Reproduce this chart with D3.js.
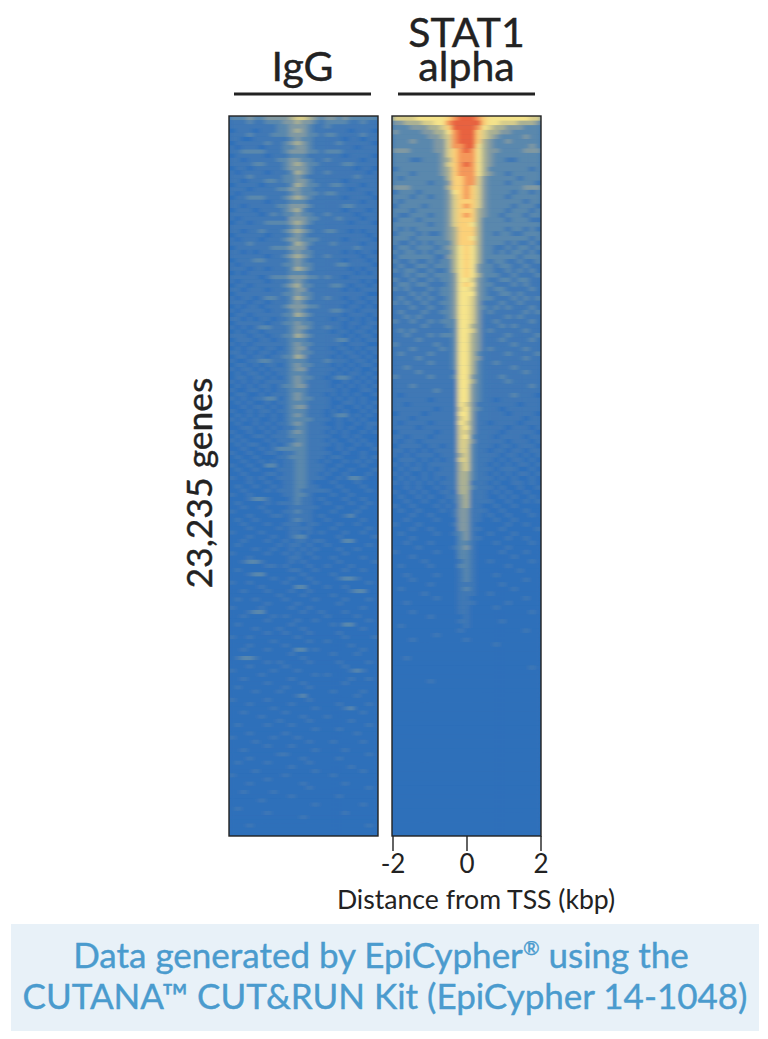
<!DOCTYPE html>
<html>
<head>
<meta charset="utf-8">
<script src="https://cdn.jsdelivr.net/npm/d3@7"></script>
<style>
body { margin: 0; background: #fff; }
text { font-family: Lato, sans-serif; fill: #222; }
</style>
</head>
<body>
<div id="chart-area"></div>
<script>
// signal per row (top to bottom) and per bin (-2 to 2 kbp), 0 = low, 9 = high
// groups are just left flank / centre / right flank
const iggRows = [
"222322333 3455432 332322222","111211222 3343321 222211211","111111112 2333211 211111111","011101112 2343211 111101110",
"111211122 2333221 221111211","110011111 1232211 111011011","011111211 2343211 112111110","101110111 2233211 111110111",
"112222111 2333221 222111111","011111011 1222111 111011110","110111112 2332211 211111011","111122111 2343221 111221111",
"011011111 2333211 111110110","101111011 1243211 211111101","111211111 2232111 111112111","110111221 2233211 111011111",
"011110111 1243221 122111011","111011112 2332211 111101111","101111111 1232221 221111101","011222111 2343211 111011110",
"111111011 1222111 111111011","110111112 2333211 111221111","011101111 2342111 111011101","111110121 2232211 211110111",
"101111111 1333221 112111011","011011222 2343211 111101110","111111111 1232111 111111111","110112111 2343211 221101011",
"011111011 1232111 111111101","101110111 2332221 111011110","111211111 1243211 121111011","011111122 2333111 111112111",
"110101111 1232211 111010110","111111011 2343211 211111011","011122111 1232111 111011101","101111111 2232211 112211110",
"111011011 1243211 111101011","010111111 1222111 111110101","111110122 2333221 211011111","101111011 1232111 111111010",
"011011111 2342211 122101101","110111011 1233111 111010111","011111111 2232211 111111100","101101221 1243211 211011011",
"111011011 1232111 111101101","010110111 2333221 111011010","101111011 1232111 122110111","011011111 2243211 111011101",
"110101101 1222111 101101010","011111011 2232211 111011011","101012211 1233211 211010110","010110111 1232111 101101101",
"111011011 2243211 111010110","011101101 1222111 112201011","101011111 1232211 111011100","010110110 1233111 101101011",
"110101101 1232211 110110101","011011011 2243111 101011010","100112211 1222111 211101101","011010110 1232211 101010110",
"101101011 1233111 110101001","010110101 1222111 101011010","011011010 1232211 012210101","101010111 1232111 100101010",
"010101101 2233111 101010101","100110101 1222111 110100110","011001011 1232111 010101001","101011220 1232211 101010100",
"010100101 1222111 100110101","001011010 1233111 101001010","100101101 1222111 010100101","010101010 1232111 012201010",
"101010010 1222211 101010100","010010101 1232111 001001011","001101010 1122111 101010010","100100101 1232111 010100101",
"010011011 1222111 100101000","101000101 1122111 010010100","010110010 1232111 101001010","001001012 2222111 001010001",
"100100110 1122111 100100100","010010001 1222111 011000101","001001010 1122110 100101010","100100220 1122111 001000100",
"010010001 1122111 010010001","001000110 1122110 100100010","100101001 1122111 001022100","000100100 1122100 010001000",
"010010010 1122110 001000100","001000101 1121111 100100010","100100000 1122100 010010000","000122100 0121101 000100100",
"010000101 1121100 100010010","001001000 0111110 001000100","100000100 1121100 010001000","000100011 0111101 000120000",
"010010000 0121100 100000100","001000100 1110110 001001000","000100001 0111100 010000010","100001000 0110101 000100100",
"000100010 0122000 001000001","001000100 1011011 000220000","010000001 0110100 100000010","000010010 0101010 001001000",
"100000100 1010100 000100000","000100000 0110010 010000100","001221000 0101000 001000001","000000110 1000100 100010000",
"010000000 0110010 000100100","000122000 0001000 010000000","000000010 0100100 001221000","100100000 1000010 000000010",
"000001000 0022000 100100000","001000100 0100100 000012200","000000001 0001000 010000000","010010000 1000010 000100010",
"000000100 0010000 001000000","100001000 0100100 000000100","000122000 0001001 000100000","001000010 1000000 100001000",
"000000100 0010010 000000010","010000000 0100000 010220000","000010001 0001000 000000100","000000100 1000100 001000000",
"100100000 0010000 000100001","000000010 0000100 100000000","000100000 1000000 000010000","001000100 0022010 000000100",
"000000000 0100000 010001000","012210000 0001000 000000000","000000101 0000100 001000010","000100000 1000000 000100000",
"100000010 0010000 000012100","000001000 0000010 100000000","001000000 0100000 000010010","000000100 0001000 000100000",
"010000000 1000100 000000000","000010001 0000000 010000100","000000000 0012000 000001000","100000100 0000100 000000000",
"000100000 0100000 001000010","000000010 0000010 000120000","001000000 1000000 000000100","000001000 0001000 100000000",
"000000001 0000100 000010000","010000100 0100000 000000010","000000000 0000010 001000000","000100000 1000000 000001000",
"100000010 0010000 000000000","000010000 0000100 010000100","000000100 0100000 000000000","001000000 0000010 000100000",
"000000001 1000000 000000010","000100000 0001000 001000000","010000100 0000100 000000000","000000000 0100000 000010000",
"000010000 0000010 000000100","100000000 1000000 010000000","000000100 0000000 000000000","000100000 0001000 000100000",
"000000000 0000100 000000010","001000010 0000000 000000000","000000000 0100000 001000000","000001000 0000000 000000000",
"000000000 0000010 000000100","010000000 0000000 000000000","000000100 0000000 000100000","000000000 0001000 000000000",
"000000000 0000000 000000000","000100000 0000000 000000010","000000000 0000000 000000000","000000000 0000000 000000000"
];
const stat1Rows = [
"555566666 7899987 666666655","334445566 8999997 665554443","222333445 7999986 544333222","322223344 6899975 443322222",
"222222334 5899975 432222322","222322233 5899974 322322222","222222233 5889964 322222232","333222233 5789864 332222333",
"222222223 5788864 322222222","222112223 4788864 322112222","222222223 5789864 322222222","122222223 4788864 222222212",
"222122223 4788864 322122222","212222222 4778853 222221222","222222122 3778853 222122221","333222222 4778753 222222333",
"122212222 3678753 222212212","222122122 3578753 222122222","212222222 3577753 222222122","122221222 3578753 222212221",
"222122222 3577743 222122212","211222122 3578743 221222122","122212222 3577742 222122211","222222122 3577642 222222222",
"212122222 3477742 222122121","122212112 3477742 212211222","222122222 3477642 222222212","211212122 2477742 222121121",
"122122212 3467642 211212212","212212122 2467642 212122121","122222211 3467642 222221222","211211212 2467642 122112112",
"121122122 2467632 212211211","212211211 2467632 211212121","112122122 2367642 221121112","211211212 2366532 112212211",
"122122111 2367632 211121211","212111212 2366532 122111121","111212112 2366632 112212111","121121211 2366532 211121212",
"212112112 2366531 112112111","111211211 2366532 121211121","121112112 2366531 211111212","112121111 2366531 111212111",
"211211212 2266531 121111121","111112111 2266431 112121111","121211111 1266531 211111211","112111212 2266431 111211112",
"111121111 1266431 112111121","211111121 1266431 111121111","111211112 1266431 211111211","121111211 1266421 111211112",
"111121111 1266431 111111211","111111211 1266421 121111111","112111111 1266421 111121111","111121111 1166421 111111211",
"211111211 1266321 112111111","111111111 1166421 111211111","111211111 1166321 111111121","111111121 1166321 111111111",
"101111111 1166321 111121110","111111011 1166321 101111111","110111111 1165311 111110111","111111101 1156321 110111111",
"011110111 1166311 111011110","111011111 1156311 111111011","101111011 1165311 011110111","111101111 1156311 111011101",
"011111101 1155311 110111110","110111011 1156211 101111011","101101111 1155311 111011101","011110110 1155211 101101110",
"110101011 1155211 011011011","101011101 1145211 110110101","011101010 1155211 101011010","101010111 1145211 010101101",
"010110101 1145211 101110010","101001011 1144211 010101101","010101010 1144211 101010010","101010101 1144111 010011010",
"001010010 1144211 101001001","100101001 1044111 010100100","010010100 1134111 001010010","001001001 0134111 100100101",
"100100010 1034110 010010000","010010001 0133111 001000100","000100100 0133110 100100010","001000010 0033110 010010000",
"100010000 0133100 000100100","000100100 0033110 001000001","010000010 0123100 100010000","000100000 0023110 000100100",
"001000100 0022100 010000010","000010000 0123100 000100000","100000010 0022100 001000100","000100000 0022100 000010000",
"000001000 0012100 100000010","010000100 0022100 000100000","000000000 0012100 000001000","001000010 0012100 010000000",
"000100000 0012100 000000100","000000100 0011100 001000000","010000000 0012100 000010000","000001000 0011100 100000000",
"000000010 0011000 000000100","001000000 0011100 000100000","000000000 0011000 010000000","000100000 0011000 000000010",
"000000100 0001000 000000000","000000000 0011000 001000000","010000000 0001000 000000000","000000000 0010000 000000100",
"000000010 0000000 000000000","000100000 0001000 000000000","000000000 0000000 010000000","000000000 0000000 000000000",
"000000000 0000000 000000000","001000000 0000000 000000000","000000000 0000000 000000000","000000000 0000000 000000010",
"000000000 0000000 000000000","000000000 0000000 000000000","000000100 0000000 000000000","000000000 0000000 000000000",
"000000000 0000000 000000000","000000000 0000000 000000000","000000000 0000000 000000000","000000000 0000000 000000000",
"000000000 0000000 000000000","000000000 0000000 000000000","000000000 0000000 000000000","000000000 0000000 000000000",
"000000000 0000000 000000000","000000000 0000000 000000000","000000000 0000000 000000000","000000000 0000000 000000000",
"000000000 0000000 000000000","000000000 0000000 000000000","000000000 0000000 000000000","000000000 0000000 000000000",
"000000000 0000000 000000000","000000000 0000000 000000000","000000000 0000000 000000000","000000000 0000000 000000000",
"000000000 0000000 000000000","000000000 0000000 000000000","000000000 0000000 000000000","000000000 0000000 000000000",
"000000000 0000000 000000000","000000000 0000000 000000000","000000000 0000000 000000000","000000000 0000000 000000000",
"000000000 0000000 000000000","000000000 0000000 000000000","000000000 0000000 000000000","000000000 0000000 000000000"
];
const colorLevels = [0, 1, 2, 3, 4, 5, 6, 7, 8, 9];
const colorValues = ["#2f70ba", "#3f78b5", "#5a88ad", "#8199a2", "#abb193", "#d8cd8b", "#f6e48b", "#fbd078", "#f4975a", "#e8623f"];
const xTicks = [-2, 0, 2];

const svgWidth = 768,
	svgHeight = 1039;

const svg = d3.select("#chart-area")
	.append("svg")
	.attr("width", svgWidth)
	.attr("height", svgHeight)
	.style("display", "block");

const color = d3.scaleLinear().domain(colorLevels).range(colorValues);

const defs = svg.append("defs");
const blur = defs.append("filter")
	.attr("id", "smear")
	.attr("x", "-5%").attr("y", "-2%")
	.attr("width", "110%").attr("height", "104%");
blur.append("feGaussianBlur").attr("stdDeviation", "2.8 0.6");

function drawPanel(rows, left, id) {
	const top = 116, bottom = 836, width = 149;
	const parsed = rows.map(row => row.replace(/ /g, "").split("").map(Number));
	const x = d3.scaleBand().domain(d3.range(25)).range([left, left + width]);
	const y = d3.scaleBand().domain(d3.range(parsed.length)).range([top, bottom]);

	defs.append("clipPath").attr("id", id)
		.append("rect")
		.attr("x", left).attr("y", top)
		.attr("width", width).attr("height", bottom - top);

	const panel = svg.append("g").attr("clip-path", `url(#${id})`);
	panel.append("rect")
		.attr("x", left).attr("y", top)
		.attr("width", width).attr("height", bottom - top)
		.attr("fill", color(0));

	const cells = parsed.flatMap((row, r) => row.map((v, c) => ({r, c, v})));
	panel.append("g")
		.attr("filter", "url(#smear)")
		.selectAll("rect")
		.data(cells)
		.enter().append("rect")
		.attr("x", d => x(d.c))
		.attr("y", d => y(d.r))
		.attr("width", x.bandwidth() + 0.5)
		.attr("height", y.bandwidth() + 0.5)
		.attr("fill", d => color(d.v));

	svg.append("rect")
		.attr("x", left).attr("y", top)
		.attr("width", width).attr("height", bottom - top)
		.attr("fill", "none")
		.attr("stroke", "#222")
		.attr("stroke-width", 1.4);
}

drawPanel(iggRows, 229, "clip-igg");
drawPanel(stat1Rows, 392, "clip-stat1");

// column titles and rules
[[234, 371], [398, 535]].forEach(d => {
	svg.append("line")
		.attr("x1", d[0]).attr("x2", d[1])
		.attr("y1", 94).attr("y2", 94)
		.attr("stroke", "#222")
		.attr("stroke-width", 3);
});

function title(label, cx, base) {
	svg.append("text")
		.attr("x", cx).attr("y", base)
		.attr("text-anchor", "middle")
		.attr("font-size", 41)
		.attr("stroke", "#222")
		.attr("stroke-width", 0.4)
		.text(label);
}
title("IgG", 302.5, 81);
title("STAT1", 466.5, 47);
title("alpha", 466.5, 81);

svg.append("text")
	.attr("transform", "translate(212, 483) rotate(-90)")
	.attr("text-anchor", "middle")
	.attr("font-size", 35.5)
	.attr("stroke", "#222")
	.attr("stroke-width", 0.4)
	.text("23,235 genes");

// x axis under the STAT1 panel
const xScale = d3.scaleLinear().domain([-2, 2]).range([392.5, 540.5]);
const xAxis = svg.append("g")
	.attr("transform", "translate(0, 836)")
	.call(d3.axisBottom(xScale).tickValues(xTicks).tickSize(15).tickPadding(4).tickFormat(d => String(d)));
xAxis.select(".domain").remove();
xAxis.selectAll("line").attr("stroke", "#222").attr("stroke-width", 1.4);
xAxis.selectAll("text")
	.attr("font-size", 26)
	.attr("font-family", "Lato, sans-serif")
	.style("fill", "#222");

svg.append("text")
	.attr("x", 476).attr("y", 909)
	.attr("text-anchor", "middle")
	.attr("font-size", 26.6)
	.text("Distance from TSS (kbp)");

// footer box
svg.append("rect")
	.attr("x", 11).attr("y", 924)
	.attr("width", 748).attr("height", 107)
	.attr("fill", "#e8f1f8");

const line1 = svg.append("text")
	.attr("x", 381).attr("y", 968)
	.attr("text-anchor", "middle")
	.attr("font-size", 35)
	.attr("stroke", "#4a9bce")
	.attr("stroke-width", 0.4)
	.style("fill", "#4a9bce");
line1.append("tspan").text("Data generated by EpiCypher");
line1.append("tspan").attr("font-size", 20).attr("dy", -13).text("®");
line1.append("tspan").attr("dy", 13).text(" using the");

svg.append("text")
	.attr("x", 385).attr("y", 1009)
	.attr("text-anchor", "middle")
	.attr("font-size", 35)
	.attr("stroke", "#4a9bce")
	.attr("stroke-width", 0.4)
	.style("fill", "#4a9bce")
	.text("CUTANA™ CUT&RUN Kit (EpiCypher 14-1048)");
</script>
</body>
</html>
